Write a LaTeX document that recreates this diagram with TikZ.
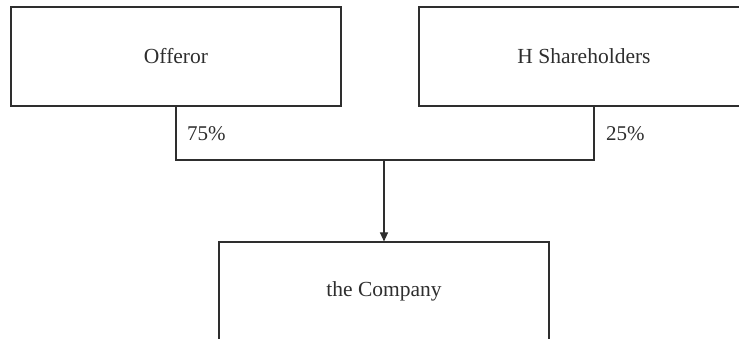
\documentclass[tikz,border=0pt]{standalone}
\usepackage{fontspec}
\setmainfont{Liberation Serif}
\usetikzlibrary{arrows.meta,calc}
\definecolor{ink}{HTML}{2E2E2E}
\tikzset{
  box/.style={draw=ink, line width=1.1pt, minimum width=330pt, minimum height=99pt, inner sep=0pt, font=\fontsize{21.5}{24}\selectfont, text=ink},
  pct/.style={font=\fontsize{21}{24}\selectfont, text=ink, inner sep=0pt, anchor=west},
  conn/.style={draw=ink, line width=1.1pt},
}
\begin{document}
\begin{tikzpicture}[x=1pt,y=1pt]
\useasboundingbox (0,0) rectangle (739,-339);
\clip (0,0) rectangle (739,-339);
\node[box] (off) at (176,-56.5) {Offeror};
\node[box] (hs) at (584,-56.5) {H Shareholders};
\node[box] (co) at (384,-291.5) {the Company};
\coordinate (hsfoot) at (594,-106);
\coordinate (offbar) at (176,-160);
\coordinate (hsbar) at (594,-160);
\coordinate (mid) at (384,-160);
\draw[conn] (off.south) -- (offbar) -- (hsbar) -- (hsfoot);
\draw[conn, -{Triangle[length=9pt,width=8pt]}] (mid) -- (co.north);
\node[pct] (p75) at (187,-134) {75\%};
\node[pct] (p25) at (606,-134) {25\%};
\end{tikzpicture}
\end{document}
